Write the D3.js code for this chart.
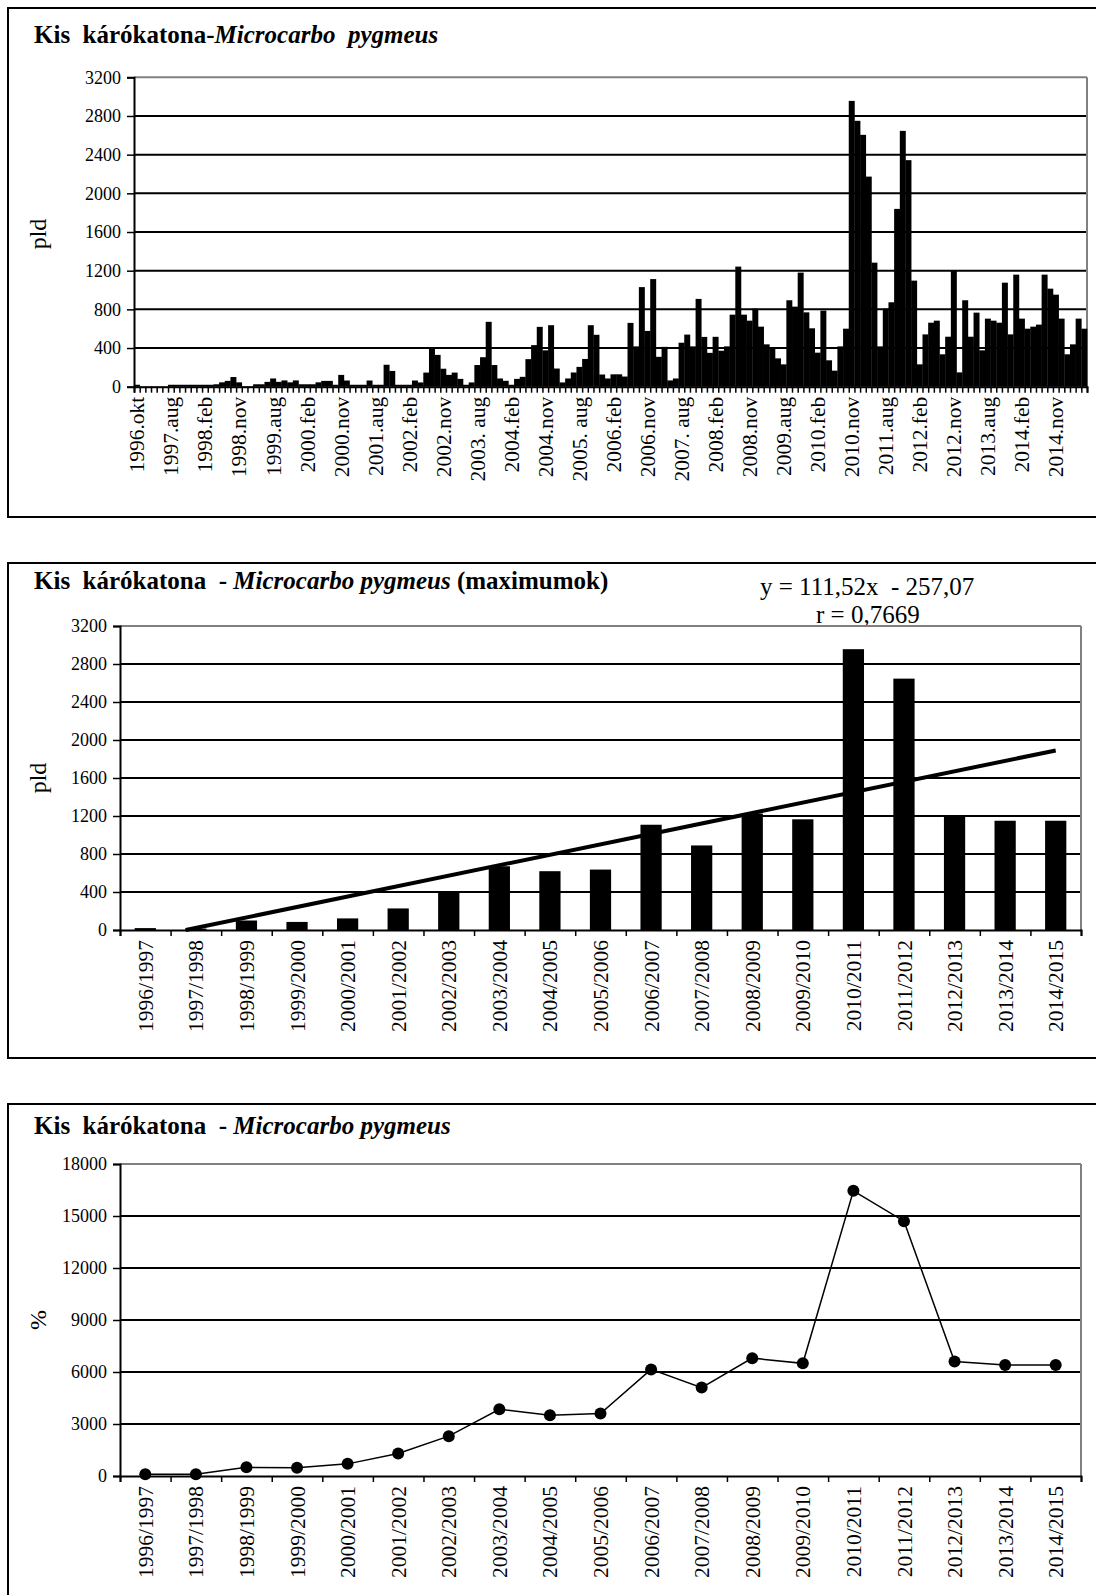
<!DOCTYPE html>
<html><head><meta charset="utf-8">
<script src="https://cdn.jsdelivr.net/npm/d3@7"></script>
<style>
body{margin:0;background:#fff}
svg text{font-family:"Liberation Serif","Times New Roman",serif;fill:#000}
</style>
</head><body>
<svg id="c" width="1096" height="1595"></svg>
<script>
// ---------- DATA ----------
const monthlyValues = [
 20,3,3,3,3,3,20,20,20,20,20,20,20,20,25,45,60,100,45,5,
 5,25,25,50,85,50,65,45,65,25,25,25,45,60,60,20,122,64,20,20,
 20,64,20,20,227,163,20,20,20,64,44,146,403,329,186,122,146,81,20,44,
 224,305,671,224,85,61,20,81,102,285,430,619,376,636,188,44,85,147,205,287,
 636,537,126,85,128,128,105,660,417,1030,577,1113,309,412,65,85,455,539,417,908,
 515,350,516,372,417,745,1242,745,683,807,621,438,397,293,231,894,828,1180,769,604,
 352,787,273,166,417,600,2956,2750,2605,2173,1283,417,807,873,1839,2646,2343,1097,231,541,
 662,683,335,517,1197,148,894,517,766,376,704,683,662,1076,541,1159,704,600,621,642,
 1159,1014,952,704,335,438,704,600
];
const monthlyTickLabels = ["1996.okt","1997.aug","1998.feb","1998.nov","1999.aug","2000.feb","2000.nov",
 "2001.aug","2002.feb","2002.nov","2003. aug","2004.feb","2004.nov","2005. aug","2006.feb","2006.nov",
 "2007. aug","2008.feb","2008.nov","2009.aug","2010.feb","2010.nov","2011.aug","2012.feb","2012.nov",
 "2013.aug","2014.feb","2014.nov"];
const monthlyLabelStep = 6;
const yTicks1 = [0,400,800,1200,1600,2000,2400,2800,3200];

const seasons = ["1996/1997","1997/1998","1998/1999","1999/2000","2000/2001","2001/2002","2002/2003",
 "2003/2004","2004/2005","2005/2006","2006/2007","2007/2008","2008/2009","2009/2010","2010/2011",
 "2011/2012","2012/2013","2013/2014","2014/2015"];
const seasonMax = [20,15,100,85,122,227,403,671,619,636,1108,890,1225,1165,2956,2646,1197,1150,1150];
// trend line as drawn in the picture: [season position (1-based), value]
const trendLine = [[1.8, 0], [19, 1890]];
const trendText = ["y = 111,52x  - 257,07", "r = 0,7669"];
const yTicks2 = [0,400,800,1200,1600,2000,2400,2800,3200];

const seasonPercent = [100,100,500,480,700,1300,2300,3850,3500,3600,6150,5100,6800,6500,16450,14700,6600,6400,6400];
const yTicks3 = [0,3000,6000,9000,12000,15000,18000];

// ---------- DRAW ----------
const svg = d3.select("#c");
const FS_TICK = 18, FS_XLAB = 21.5, FS_TITLE = 25;

function panel(y0, h){
  svg.append("rect").attr("x",8).attr("y",y0).attr("width",1100).attr("height",h)
    .attr("fill","none").attr("stroke","#000").attr("stroke-width",2);
}
function title(x, y, parts){
  const t = svg.append("text").attr("x",x).attr("y",y).attr("font-size",FS_TITLE)
    .attr("font-weight","bold").style("white-space","pre");
  parts.forEach(p=>t.append("tspan").attr("font-style",p.it?"italic":"normal").text(p.t));
  return t;
}
function frame(x0,x1,y,ticks){
  const g = svg.append("g");
  ticks.forEach((v,i)=>{
    if(i===0) return;
    g.append("line").attr("x1",x0).attr("x2",x1).attr("y1",y(v)).attr("y2",y(v))
      .attr("stroke", i===ticks.length-1 ? "#808080" : "#000").attr("stroke-width",2);
  });
  g.append("line").attr("x1",x1).attr("x2",x1).attr("y1",y(ticks[ticks.length-1])).attr("y2",y(0))
    .attr("stroke","#808080").attr("stroke-width",2);
}
function yAxis(x0,y,ticks){
  const ax = svg.append("g").attr("transform",`translate(${x0},0)`)
    .call(d3.axisLeft(y).tickValues(ticks).tickSize(7).tickPadding(6).tickFormat(d3.format("d")));
  ax.select(".domain").attr("stroke","#000").attr("stroke-width",2);
  ax.selectAll(".tick line").attr("stroke","#000").attr("stroke-width",1.5);
  ax.selectAll("text").attr("font-size",FS_TICK);
}
function xAxisTicks(x0,x1,yb,n){
  const xl = d3.scaleLinear().domain([0,n]).range([x0,x1]);
  const ax = svg.append("g").attr("transform",`translate(0,${yb})`)
    .call(d3.axisBottom(xl).tickValues(d3.range(n+1)).tickSize(6).tickFormat(""));
  ax.select(".domain").attr("stroke","#000").attr("stroke-width",2);
  ax.selectAll(".tick line").attr("stroke","#000").attr("stroke-width",1.5);
}
function rotLabels(xs, labels, yTop, fs){
  labels.forEach((l,i)=>{
    svg.append("text").attr("transform",`translate(${xs[i]},${yTop}) rotate(-90)`)
      .attr("text-anchor","end").attr("dy","0.35em").attr("font-size",fs)
      .style("white-space","pre").text(l);
  });
}
function yTitle(x,y,t){
  svg.append("text").attr("transform",`translate(${x},${y}) rotate(-90)`)
    .attr("text-anchor","middle").attr("font-size",24).text(t);
}

// ===== Panel 1 =====
panel(8, 509);
title(34, 43, [{t:"Kis  kárókatona-"},{t:"Microcarbo  pygmeus",it:true}]);
{
  const X0=134, X1=1087, Y0=386.7, Y1=77.3;
  const x = d3.scaleBand().domain(d3.range(monthlyValues.length)).range([X0,X1]).padding(0);
  const y = d3.scaleLinear().domain([0,3200]).range([Y0,Y1]);
  frame(X0,X1,y,yTicks1);
  svg.append("g").selectAll("rect").data(monthlyValues).join("rect")
    .attr("x",(d,i)=>x(i)).attr("width",x.bandwidth()+0.3)
    .attr("y",d=>y(d)).attr("height",d=>Y0-y(d)).attr("fill","#000");
  yAxis(X0,y,yTicks1);
  xAxisTicks(X0,X1,Y0,monthlyValues.length);
  const xs = monthlyTickLabels.map((l,k)=>x(k*monthlyLabelStep)+x.bandwidth()/2);
  rotLabels(xs, monthlyTickLabels, Y0+10, FS_XLAB);
  yTitle(46, 234, "pld");
}

// ===== Panel 2 =====
panel(563, 495);
title(34, 589, [{t:"Kis  kárókatona  - "},{t:"Microcarbo pygmeus",it:true},{t:" (maximumok)"}]);
svg.append("text").attr("x",760).attr("y",595).attr("font-size",25).style("white-space","pre").text(trendText[0]);
svg.append("text").attr("x",816).attr("y",623).attr("font-size",25).text(trendText[1]);
{
  const X0=120, X1=1081, Y0=930, Y1=626;
  const x = d3.scaleBand().domain(seasons).range([X0,X1]).paddingInner(0.58).paddingOuter(0.29);
  const y = d3.scaleLinear().domain([0,3200]).range([Y0,Y1]);
  frame(X0,X1,y,yTicks2);
  svg.append("g").selectAll("rect").data(seasonMax).join("rect")
    .attr("x",(d,i)=>x(seasons[i])).attr("width",x.bandwidth())
    .attr("y",d=>y(d)).attr("height",d=>Y0-y(d)).attr("fill","#000");
  const xc = i=> x(seasons[i-1]) + x.bandwidth()/2;
  const xn = d3.scaleLinear().domain([1,seasons.length]).range([xc(1), xc(seasons.length)]);
  svg.append("path").datum(trendLine)
    .attr("d", d3.line().x(d=>xn(d[0])).y(d=>y(d[1])))
    .attr("fill","none").attr("stroke","#000").attr("stroke-width",4);
  yAxis(X0,y,yTicks2);
  xAxisTicks(X0,X1,Y0,seasons.length);
  rotLabels(seasons.map(s=>x(s)+x.bandwidth()/2), seasons, Y0+10, FS_XLAB);
  yTitle(46, 778, "pld");
}

// ===== Panel 3 =====
panel(1104, 520);
title(34, 1134, [{t:"Kis  kárókatona  - "},{t:"Microcarbo pygmeus",it:true}]);
{
  const X0=120, X1=1081, Y0=1476, Y1=1164;
  const x = d3.scalePoint().domain(seasons).range([X0,X1]).padding(0.5);
  const y = d3.scaleLinear().domain([0,18000]).range([Y0,Y1]);
  frame(X0,X1,y,yTicks3);
  svg.append("path").datum(seasonPercent)
    .attr("d", d3.line().x((d,i)=>x(seasons[i])).y(d=>y(d)))
    .attr("fill","none").attr("stroke","#000").attr("stroke-width",1.5);
  svg.append("g").selectAll("circle").data(seasonPercent).join("circle")
    .attr("cx",(d,i)=>x(seasons[i])).attr("cy",d=>y(d)).attr("r",6).attr("fill","#000");
  yAxis(X0,y,yTicks3);
  xAxisTicks(X0,X1,Y0,seasons.length);
  rotLabels(seasons.map(s=>x(s)), seasons, Y0+10, FS_XLAB);
  yTitle(46, 1320, "%");
}
</script>
</body></html>
